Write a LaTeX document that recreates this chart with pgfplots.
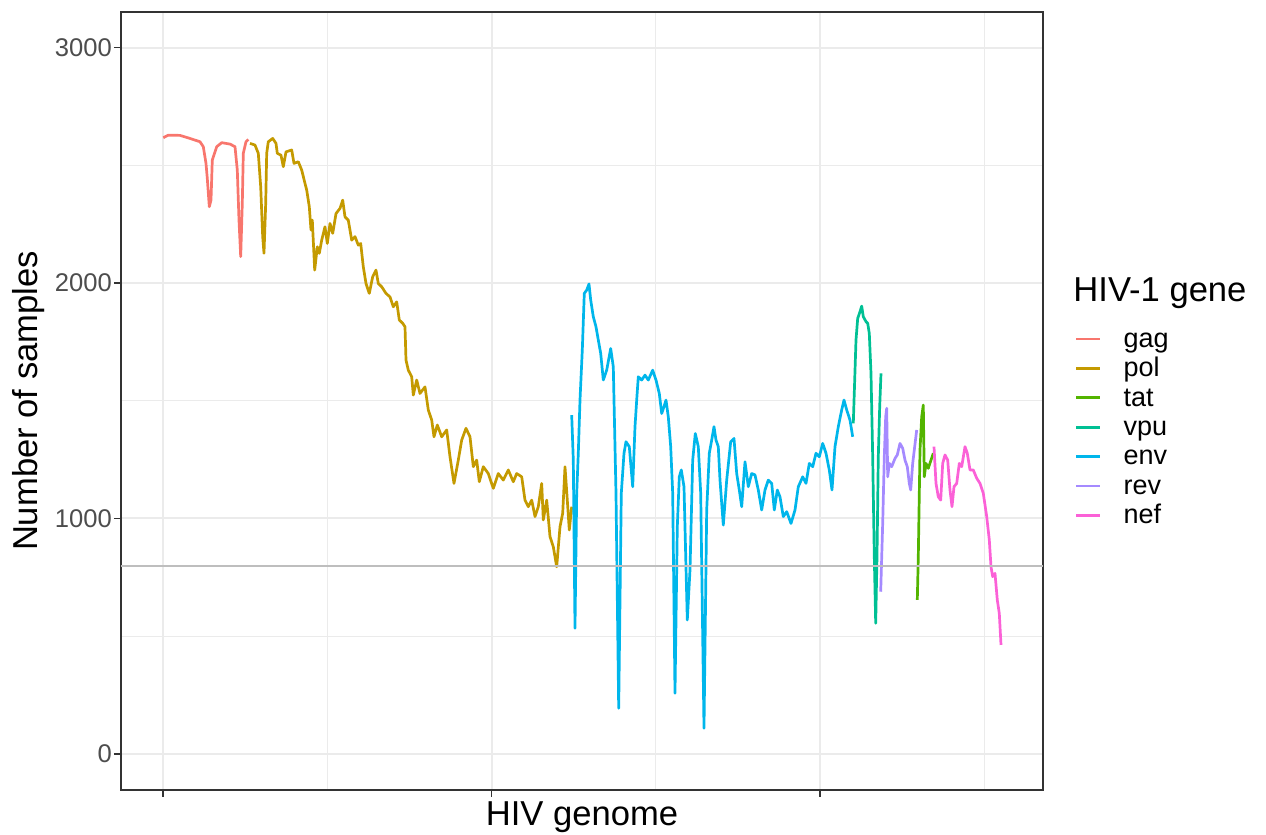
\documentclass[border=0pt]{standalone}
\usepackage{fontspec}
\setmainfont{Liberation Sans}
\usepackage{pgfplots}
\pgfplotsset{compat=1.18}
\definecolor{cgag}{HTML}{F8766D}
\definecolor{cpol}{HTML}{C49A00}
\definecolor{ctat}{HTML}{53B400}
\definecolor{cvpu}{HTML}{00C094}
\definecolor{cenv}{HTML}{00B6EB}
\definecolor{crev}{HTML}{A58AFF}
\definecolor{cnef}{HTML}{FB61D7}
\definecolor{gridc}{HTML}{EBEBEB}
\definecolor{axc}{HTML}{333333}
\definecolor{tickl}{HTML}{4D4D4D}
\definecolor{hlc}{HTML}{BEBEBE}
\begin{document}
\begin{tikzpicture}
\path[use as bounding box] (0,0) rectangle (633pt,417.5pt);
\begin{axis}[
  at={(60.5pt,22.5pt)}, anchor=south west, scale only axis,
  width=461pt, height=389pt,
  xmin=-42, xmax=880, ymin=-153, ymax=3151,
  xtick={0,328.5,657}, xticklabels={},
  minor xtick={164.25,492.75,821.25},
  ytick={0,1000,2000,3000}, minor ytick={500,1500,2500},
  grid=both,
  major grid style={gridc, line width=1pt},
  minor grid style={gridc, line width=0.5pt},
  axis line style={axc, line width=0.6pt},
  tick align=outside, major tick length=3.5pt, minor tick length=0pt,
  tick style={axc, line width=0.6pt},
  tick pos=left,
  yticklabel style={font=\fontsize{12.8}{14}\selectfont, text=tickl, xshift=2.5pt},
  /pgf/number format/assume math mode=true,
  /pgf/number format/1000 sep={},
  xlabel={HIV genome}, ylabel={Number of samples},
  xlabel style={font=\fontsize{17.3}{20}\selectfont, at={(axis description cs:0.5,-0.045)}, anchor=base},
  ylabel style={font=\fontsize{17.3}{20}\selectfont, at={(axis description cs:-0.0911,0.5)}, anchor=base},
  legend style={draw=none, fill=none, at={(axis description cs:1.0347,0.5986)}, anchor=north west,
    inner sep=0pt, outer sep=0pt, row sep=0pt, column sep=11pt,
    font=\fontsize{13.5}{15}\selectfont,
    nodes={inner sep=0pt, text height=11.5pt, text depth=3.2pt, anchor=west}},
  legend cell align=left,
  legend image code/.code={\draw[#1] (0pt,0pt) -- (12pt,0pt);},
  every axis plot/.append style={line width=1.35pt, line join=round},
]
\addplot[cgag] coordinates {(0.3,2617) (5.3,2628) (17,2627) (27,2614) (37,2600) (40.3,2579) (43,2508) (44.3,2444) (46.3,2324) (48,2352) (49.3,2522) (53.7,2579) (58.7,2596) (67,2590) (72,2579) (74.3,2480) (76,2267) (77.7,2112) (79.3,2338) (80.3,2551) (83,2600) (85.3,2610)};
\addlegendentry{gag}
\addplot[cpol] coordinates {(87,2593) (92,2586) (95.3,2551) (97.7,2409) (99.7,2197) (101,2126) (102.7,2338) (103.7,2551) (105.3,2600) (109.7,2614) (113,2593) (114.3,2551) (118,2543) (120.3,2494) (123,2557) (128.7,2565) (131,2508) (135.3,2515) (138.7,2480) (142,2423) (143.7,2395) (146.3,2324) (148,2225) (149.3,2267) (151.7,2055) (154.3,2154) (156.3,2126) (158.7,2182) (162,2239) (164.3,2168) (167,2253) (169.7,2211) (173,2295) (177,2317) (179.7,2352) (182,2281) (185.3,2267) (188.7,2182) (192,2197) (195.3,2161) (197.7,2168) (200.3,2069) (203,1998) (206.3,1956) (209.7,2027) (213,2055) (215.3,1998) (218.7,1984) (223,1956) (227,1941) (230.3,1899) (233.7,1920) (236.3,1843) (239.7,1829) (242,1814) (243,1673) (245.3,1630) (248.7,1602) (250.3,1524) (253.7,1588) (257,1531) (262,1559) (265.3,1461) (268.7,1418) (271,1347) (274.3,1397) (278.7,1347) (283.7,1376) (287,1262) (291,1149) (295.3,1248) (298.7,1333) (303,1383) (307,1347) (310.3,1220) (313.7,1248) (316.3,1156) (320.3,1220) (325.3,1191) (330.3,1128) (335.3,1191) (340.3,1163) (345.3,1206) (350.3,1156) (353.7,1191) (358.7,1177) (362,1078) (365.3,1050) (368.7,1078) (372,1008) (375.3,1050) (378.7,1149) (380.3,994) (383.7,1078) (387,923) (390.3,880) (393.7,795) (397,965) (399.7,1022) (402,1220) (404.3,1078) (406.3,951) (408.7,1050)};
\addlegendentry{pol}
\addplot[ctat] coordinates {(754.3,654) (755.3,838) (757,1291) (758.7,1432) (760.3,1482) (761.3,1177) (763,1234) (765.3,1213) (768,1248) (770.3,1277)};
\addlegendentry{tat}
\addplot[cvpu] coordinates {(690.3,1404) (693,1758) (694.7,1850) (697,1878) (698.7,1902) (700.3,1857) (703,1836) (704.7,1829) (706.3,1786) (708,1616) (709.7,1262) (711.3,838) (712.7,555) (714,838) (715.3,1262) (716.7,1475) (718,1616)};
\addlegendentry{vpu}
\addplot[cenv] coordinates {(408.7,1439) (410.3,1248) (412,534) (413.7,1107) (415.3,1277) (417,1503) (419.3,1715) (421.3,1956) (423.7,1970) (426,1996) (427.7,1928) (430.3,1857) (433,1814) (435.3,1758) (437.7,1701) (440.3,1588) (443.7,1630) (447.7,1722) (450.3,1644) (453,1107) (455.7,194) (458.3,1107) (461,1277) (463,1326) (466.3,1305) (469.7,1135) (472,1390) (473.7,1503) (475.3,1602) (478.7,1588) (482,1609) (485.3,1588) (489.7,1630) (493,1588) (496.3,1531) (498.7,1446) (501,1475) (503,1503) (505.3,1432) (507.7,1305) (509.7,1107) (512,258) (514.3,965) (516.3,1177) (518.3,1206) (521,1135) (524.3,569) (527,781) (529.7,1248) (532.3,1361) (535.3,1305) (537.7,1107) (541,109) (543.7,1036) (546.3,1277) (548.7,1333) (551,1390) (553,1333) (555.3,1305) (557,1163) (560.3,972) (563.7,1163) (567.7,1326) (571,1340) (573.7,1191) (576.3,1121) (578.7,1050) (582,1241) (585.3,1135) (588.7,1191) (592,1185) (595.3,1121) (598.7,1036) (602,1121) (605.3,1163) (608.7,1149) (611.3,1036) (614.3,1121) (617,1092) (620.3,1008) (623.7,1029) (628,979) (632,1036) (635.3,1135) (639.7,1177) (643,1149) (646.3,1234) (649.7,1220) (653,1277) (656.3,1262) (659.7,1319) (663,1277) (666.3,1206) (669,1121) (672,1305) (675.3,1390) (678.7,1461) (681,1503) (683.7,1461) (687,1418) (689.7,1347)};
\addlegendentry{env}
\addplot[crev] coordinates {(717.7,689) (719.7,979) (721.3,1262) (722.7,1432) (723.7,1468) (724.7,1177) (726.3,1234) (728.7,1220) (732,1255) (734.3,1270) (737,1319) (739.7,1298) (742,1248) (744.3,1220) (746.3,1149) (747.7,1121) (749.7,1234) (751.7,1305) (753.7,1376)};
\addlegendentry{rev}
\addplot[cnef] coordinates {(771,1305) (773,1149) (775.3,1092) (777.7,1078) (779.7,1234) (782,1270) (784.7,1248) (787,1121) (789,1050) (791,1135) (793.7,1149) (796.3,1234) (798.7,1220) (802,1305) (804.3,1277) (807,1206) (810.3,1206) (813.7,1171) (817,1149) (820.3,1107) (823.7,1008) (826.3,909) (828,795) (829.7,753) (832,767) (834.3,654) (836.3,597) (838,463)};
\addlegendentry{nef}
\addplot[hlc, line width=1pt, forget plot] coordinates {(-42,800) (880,800)};
\end{axis}
\node[anchor=base west, inner sep=0pt, font=\fontsize{17.3}{20}\selectfont] at (536.5pt,266.65pt) {HIV-1 gene};
\end{tikzpicture}
\end{document}
